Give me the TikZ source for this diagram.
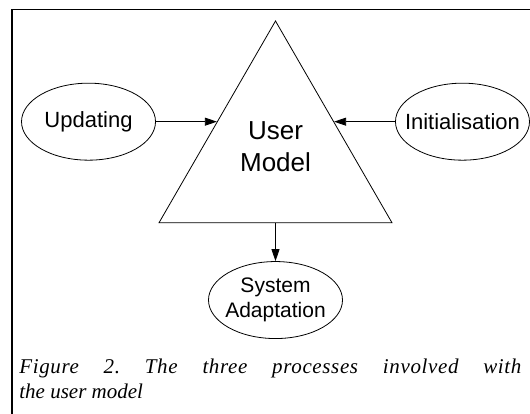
\documentclass[tikz,border=0pt]{standalone}
\usepackage{fontspec}
\setmainfont{Liberation Serif}
\setsansfont{Liberation Sans}
\usetikzlibrary{shapes.geometric,positioning,arrows.meta}

\begin{document}
\begin{tikzpicture}[ x=1pt , y=-1pt , node distance =61pt , line width =0.8pt ,
  >={Triangle[length=12pt,width=8pt]} ,
  process/.style={ ellipse , draw , minimum width =134pt , minimum height =77pt , inner xsep =-12pt , inner ysep =0pt ,
    font=\sffamily\fontsize{22}{26}\selectfont , align=center } ]
\useasboundingbox (0,0) rectangle (530,414);
\draw [ line width =1.2pt ] (12,414) -- (12,9.5) -- (530,9.5);
\node [ regular polygon , regular polygon sides =3 , draw , minimum size =269pt , inner sep =0pt ] (um) at (275.5,155.5) {};
\node [ font=\sffamily\fontsize{26}{31.5}\selectfont , align=center , inner sep =0pt ] (um_text) at ([yshift=9pt]um.center) {User\\Model};
\node [ process ] (upd) [ left = of um.side 1 ] {Updating};
\node [ process ] (ini) [ right = of um.side 3 ] {Initialisation};
\node [ process , font=\sffamily\fontsize{21}{24.5}\selectfont ] (sa) [ below = 38pt of um.side 2 ] {System\\Adaptation};
\path [->]
(upd) edge (um.side 1)
(ini) edge (um.side 3)
(um.side 2) edge (sa);
\node [ font=\itshape\frenchspacing\fontsize{21}{25}\selectfont , text width =502pt , align=justify , inner sep =0pt , anchor=north west ] (caption) at (19,358.7)
  {{\addfontfeature{LetterSpace=3}Figure 2. The three processes involved with}\linebreak the user model};
\end{tikzpicture}
\end{document}
